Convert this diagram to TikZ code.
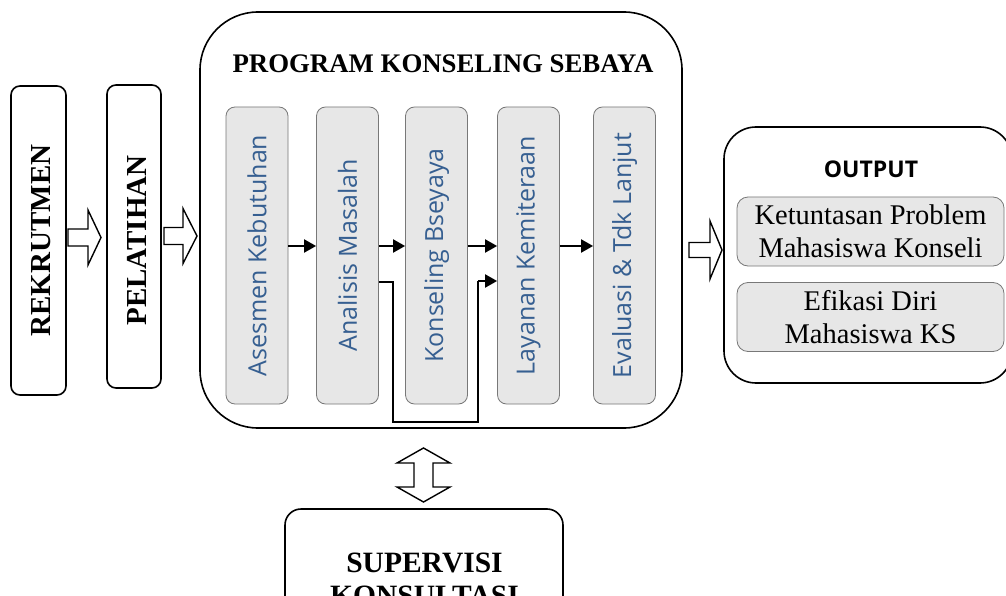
\documentclass[tikz,border=0pt]{standalone}
\usepackage{fontspec}
\setmainfont{Liberation Serif}
\newfontfamily\osans{Open Sans}
\usetikzlibrary{arrows.meta}
\definecolor{boxtext}{RGB}{54,95,145}
\definecolor{boxfill}{RGB}{231,231,231}
\definecolor{boxline}{RGB}{120,120,120}
\tikzset{
  bigbox/.style={draw=black, line width=1.6pt, fill=white, inner sep=0pt},
  stepbox/.style={draw=boxline, line width=0.8pt, fill=boxfill, rounded corners=9pt,
    minimum width=62pt, minimum height=297pt, inner sep=0pt},
  steptext/.style={text=boxtext, font=\osans\fontsize{25}{28}\selectfont, rotate=90, inner sep=0pt},
  outbox/.style={draw=boxline, line width=0.8pt, fill=boxfill, rounded corners=11pt,
    minimum width=267pt, inner sep=0pt, align=center,
    font=\fontsize{28.5}{33.5}\selectfont},
  flow/.style={line width=2pt, -{Triangle[length=12pt,width=13pt]}},
  hollow/.style={draw=black, line width=1.4pt, fill=white, line join=miter}
}
\begin{document}
\begin{tikzpicture}[x=1pt,y=-1pt]
\useasboundingbox (0,0) rectangle (1006,596);
\clip (0,0) rectangle (1006,596);
% left boxes
\node[bigbox, rounded corners=9pt, minimum width=55pt, minimum height=309pt] (rek) at (38.5,240.5) {};
\node[rotate=90, font=\bfseries\fontsize{29}{32}\selectfont, inner sep=0pt] (rekt) at (41,240.5) {REKRUTMEN};
\node[bigbox, rounded corners=9pt, minimum width=54pt, minimum height=303pt] (pel) at (134,236.5) {};
\node[rotate=90, font=\bfseries\fontsize{29}{32}\selectfont, inner sep=0pt] (pelt) at (137,240.5) {PELATIHAN};
% program box
\node[bigbox, rounded corners=58pt, minimum width=482pt, minimum height=416pt] (prog) at (441,220) {};
\node[font=\bfseries\fontsize{26.8}{30}\selectfont, anchor=base, inner sep=0pt] (progt) at (443,73) {PROGRAM KONSELING SEBAYA};
% steps
\node[stepbox] (s1) at (257,255.5) {};
\node[stepbox] (s2) at (347.5,255.5) {};
\node[stepbox] (s3) at (436.5,255.5) {};
\node[stepbox] (s4) at (528.5,255.5) {};
\node[stepbox] (s5) at (624.5,255.5) {};
\node[steptext] at (s1) {Asesmen Kebutuhan};
\node[steptext] at (s2) {Analisis Masalah};
\node[steptext] at (s3) {Konseling Bseyaya};
\node[steptext] at (s4) {Layanan Kemiteraan};
\node[steptext] at (s5) {Evaluasi \& Tdk Lanjut};
\draw[flow] (s1.east |- 0,246) -- (s2.west |- 0,246);
\draw[flow] (s2.east |- 0,246) -- (s3.west |- 0,246);
\draw[flow] (s3.east |- 0,246) -- (s4.west |- 0,246);
\draw[flow] (s4.east |- 0,246) -- (s5.west |- 0,246);
\coordinate (b1) at (393,282);
\coordinate (b2) at (393,422);
\coordinate (b3) at (478,422);
\coordinate (b4) at (478,281);
\draw[line width=2pt] (s2.east |- b1) -- (b1) -- (b2) -- (b3) -- (b4);
\draw[flow] (b4) -- (s4.west |- b4);
% output
\node[bigbox, rounded corners=32pt, minimum width=288pt, minimum height=256pt] (out) at (868,255) {};
\node[font=\osans\bfseries\fontsize{23}{26}\selectfont, anchor=base, inner sep=0pt] (outt) at (871,178) {OUTPUT};
\node[outbox, minimum height=69pt] (o1) at (870.5,231.5) {Ketuntasan Problem\\Mahasiswa Konseli};
\node[outbox, minimum height=69pt] (o2) at (870.5,317) {Efikasi Diri\\Mahasiswa KS};
% supervisi
\node[bigbox, rounded corners=16pt, minimum width=278pt, minimum height=130pt] (sup) at (424,574) {};
\node[font=\bfseries\fontsize{29.5}{33}\selectfont, align=center, anchor=base, inner sep=0pt] (supt) at (424.5,605) {SUPERVISI\\KONSULTASI};
% hollow arrows
\draw[hollow] (68,229) -- (88,229) -- (88,210) -- (101,237.5) -- (88,265) -- (88,246) -- (68,246) -- cycle;
\draw[hollow] (164,227.5) -- (183,227.5) -- (183,208.5) -- (197,236) -- (183,263.5) -- (183,244.5) -- (164,244.5) -- cycle;
\draw[hollow] (689,242.5) -- (710,242.5) -- (710,221) -- (722,250) -- (710,279) -- (710,257.5) -- (689,257.5) -- cycle;
\draw[hollow] (423.5,448) -- (450,463) -- (433,463) -- (433,487) -- (450,487) -- (423.5,502) -- (397,487) -- (414,487) -- (414,463) -- (397,463) -- cycle;
\end{tikzpicture}
\end{document}
